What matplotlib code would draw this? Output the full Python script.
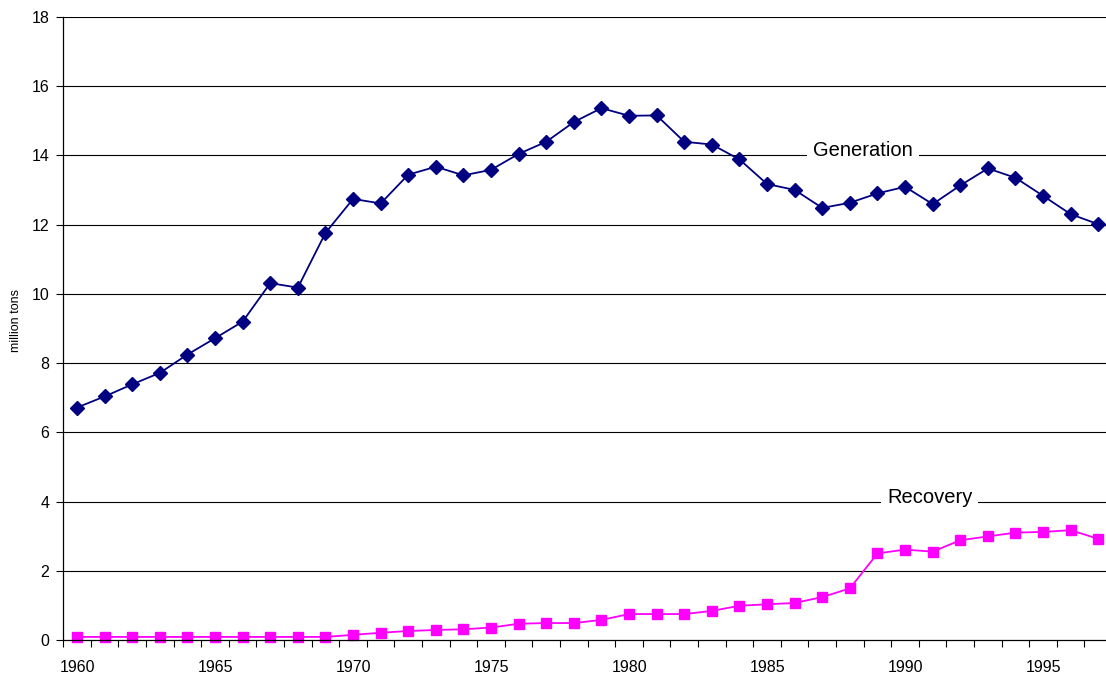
"""Generation vs recovery (million tons), 1960-1997 -- Excel-style line chart."""

import matplotlib

matplotlib.use("Agg")
import matplotlib.pyplot as plt
from matplotlib.ticker import FixedFormatter, FixedLocator, NullFormatter

plt.rcParams["font.family"] = ["Liberation Sans", "DejaVu Sans"]

years = list(range(1960, 1998))
generation = [6.72, 7.04, 7.39, 7.72, 8.25, 8.72, 9.20, 10.31, 10.18, 11.76,
              12.74, 12.61, 13.44, 13.67, 13.42, 13.58, 14.04, 14.39, 14.96, 15.36,
              15.14, 15.15, 14.39, 14.31, 13.88, 13.17, 13.00, 12.48, 12.63, 12.90,
              13.09, 12.59, 13.13, 13.62, 13.35, 12.83, 12.30, 12.01]
recovery = [0.10, 0.10, 0.10, 0.10, 0.10, 0.10, 0.10, 0.10, 0.10, 0.10,
            0.16, 0.22, 0.27, 0.30, 0.32, 0.37, 0.48, 0.50, 0.50, 0.59,
            0.76, 0.76, 0.76, 0.85, 1.00, 1.04, 1.08, 1.25, 1.50, 2.51,
            2.62, 2.56, 2.89, 3.00, 3.11, 3.13, 3.18, 2.93]
label_years = [1960, 1965, 1970, 1975, 1980, 1985, 1990, 1995]
y_ticks = [0, 2, 4, 6, 8, 10, 12, 14, 16, 18]

fig = plt.figure(figsize=(11.06, 6.75), dpi=100)
ax = fig.add_axes([0.0572, 0.0513, 0.9428, 0.924])

ax.plot(years, generation, color="#000080", lw=1.3, marker="D", ms=7,
        mfc="#000080", mec="#000080", zorder=3, clip_on=False)
ax.plot(years, recovery, color="#FF00FF", lw=1.3, marker="s", ms=7,
        mfc="#FF00FF", mec="#FF00FF", zorder=3, clip_on=False)

ax.set_xlim(1959.5, 1997.28)
ax.set_ylim(0, 18)

# gridlines
for v in y_ticks[1:]:
    ax.axhline(v, color="#000000", lw=0.8, zorder=1)

# y axis
ax.set_yticks(y_ticks)
ax.tick_params(axis="y", direction="out", length=5, width=0.8, pad=5,
               labelsize=11.5)

# x axis: ticks at category boundaries, labels centred every 5 years
ax.xaxis.set_major_locator(FixedLocator(label_years))
ax.xaxis.set_major_formatter(FixedFormatter([str(y) for y in label_years]))
ax.xaxis.set_minor_locator(FixedLocator([y - 0.5 for y in years] + [1997.5]))
ax.xaxis.set_minor_formatter(NullFormatter())
ax.tick_params(axis="x", which="major", length=0, pad=14, labelsize=11.5)
ax.tick_params(axis="x", which="minor", direction="out", length=5, width=0.8)

for s in ("top", "right"):
    ax.spines[s].set_visible(False)
for s in ("left", "bottom"):
    ax.spines[s].set_linewidth(0.9)
    ax.spines[s].set_zorder(4)

fig.text(16 / 1106, 1 - 320 / 675, "million tons", rotation=90,
         ha="center", va="center", fontsize=9)

box = dict(boxstyle="square,pad=0.3", fc="white", ec="none")
ax.text(1988.47, 14.15, "Generation", ha="center", va="center",
        fontsize=14.5, bbox=box, zorder=2)
ax.text(1990.89, 4.12, "Recovery", ha="center", va="center",
        fontsize=14.5, bbox=box, zorder=2)

fig.savefig("out.png", dpi=100)
